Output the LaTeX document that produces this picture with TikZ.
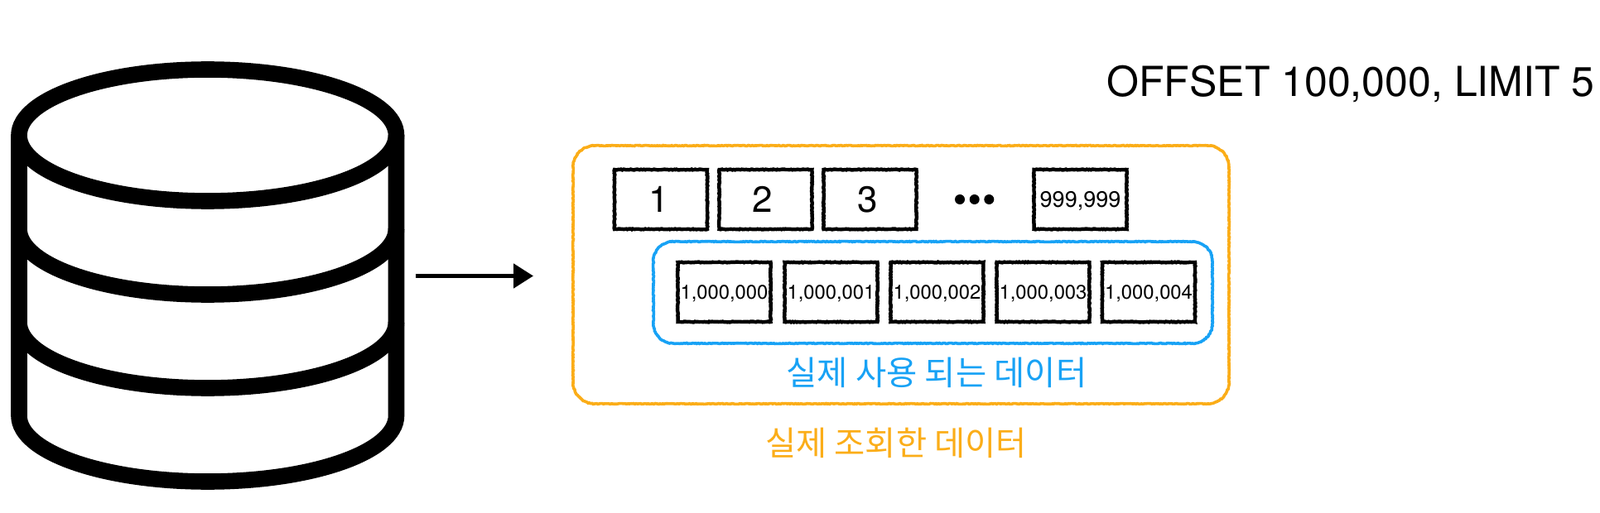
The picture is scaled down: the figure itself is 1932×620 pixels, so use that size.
\documentclass[tikz,border=0pt]{standalone}
\usepackage{fontspec}
\setmainfont{TeX Gyre Heros}
\newfontfamily\krfont{Noto Sans CJK KR}
\usetikzlibrary{arrows.meta,decorations.pathmorphing}
\definecolor{inkblue}{HTML}{18A2F5}
\definecolor{inkorange}{HTML}{FBAD18}
\newcommand{\fsz}[1]{\fontsize{#1}{#1}\selectfont}
% rounded frame drawn with arcs: x1,y1,x2,y2,r
\newcommand{\roundframe}[5]{(#1+#5,#2) -- (#3-#5,#2) arc[start angle=-90,end angle=0,radius=#5]
  -- (#3,#4-#5) arc[start angle=0,end angle=90,radius=#5]
  -- (#1+#5,#4) arc[start angle=90,end angle=180,radius=#5]
  -- (#1,#2+#5) arc[start angle=180,end angle=270,radius=#5] -- cycle}
\tikzset{
  x=1pt,y=-1pt,
  rough/.style={decorate,decoration={random steps,segment length=1.6pt,amplitude=0.45pt}},
  cell/.style={draw=black,rough,line width=4.4pt,minimum width=112pt,minimum height=72pt,inner sep=0pt,anchor=center,text=black,text depth=0pt},
  bigcell/.style={cell,font=\fsz{44}},
  midcell/.style={cell,font=\fsz{27}},
  smallcell/.style={cell,font=\fsz{23.8}},
  frame/.style={rough,line width=3.6pt},
  drumline/.style={line width=19.6pt,draw=black},
  label/.style={inner sep=0pt,anchor=center},
  dotmark/.style={circle,fill=black,draw=none,minimum size=12pt,inner sep=0pt}
}
\begin{document}
\begin{tikzpicture}
\useasboundingbox (0,0) rectangle (1932,620);
\fill[white] (0,0) rectangle (1932,620);
% database drum
\draw[drumline] (23,163.5) -- (23,502.5) arc[start angle=180,end angle=0,x radius=227.75,y radius=79.5] -- (478.5,163.5);
\draw[drumline] (23,276.5) arc[start angle=180,end angle=0,x radius=227.75,y radius=79.5];
\draw[drumline] (23,389.5) arc[start angle=180,end angle=0,x radius=227.75,y radius=79.5];
\draw[drumline] (250.75,163.5) ellipse[x radius=227.75,y radius=79.5];
% arrow
\coordinate (arrowstart) at (502,333.5);
\coordinate (arrowend) at (644,333.5);
\draw[line width=5pt,-{Triangle[length=24pt,width=29pt]}] (arrowstart) -- (arrowend);
% frames
\draw[inkorange,frame] \roundframe{692}{176}{1484}{488}{26};
\draw[inkblue,frame] \roundframe{789}{292}{1464}{415}{24};
% first row
\node[bigcell] (c1) at (798,241) {1\kern4pt};
\node[bigcell] (c2) at (924.5,241) {2\kern8pt};
\node[bigcell] (c3) at (1050.5,241) {3\kern5pt};
\node[dotmark] (d1) at (1159,241) {};
\node[dotmark] (d2) at (1176.7,241) {};
\node[dotmark] (d3) at (1194.3,241) {};
\node[midcell] (c4) at (1304.5,241) {999,999};
% second row
\node[smallcell] (e0) at (874.5,353) {1,000,000};
\node[smallcell] (e1) at (1003.5,353) {1,000,001};
\node[smallcell] (e2) at (1131.5,353) {1,000,002};
\node[smallcell] (e3) at (1259.5,353) {1,000,003};
\node[smallcell] (e4) at (1387,353) {1,000,004};
% labels
\node[label,font=\fsz{50},text depth=0pt] (query) at (1631,98) {OFFSET 100,000, LIMIT 5};
\node[label,text=inkblue,font=\krfont\fsz{40.5}] (used) at (1131,450) {실제 사용 되는 데이터};
\node[label,text=inkorange,font=\krfont\fsz{40.4}] (read) at (1082,535) {실제 조회한 데이터};
\end{tikzpicture}
\end{document}
